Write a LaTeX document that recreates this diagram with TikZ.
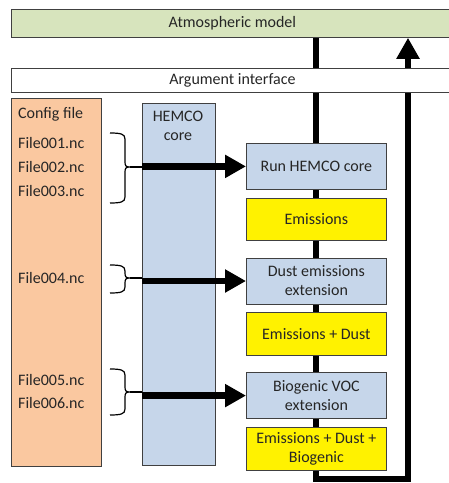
\documentclass[tikz,border=0pt]{standalone}
\usepackage{fontspec}
\setmainfont{Carlito}
\usepackage{xcolor}
\usetikzlibrary{arrows.meta,positioning,backgrounds}

\definecolor{atmgreen}{HTML}{D7E4BD}
\definecolor{cfgpeach}{HTML}{FAC8A0}
\definecolor{coreblue}{HTML}{C6D6EA}
\definecolor{edgegray}{HTML}{404040}

\begin{document}
\begin{tikzpicture}[
  x=1pt, y=-1pt,
  font=\fontsize{16}{19}\selectfont,
  text=black!85,
  bar/.style={rectangle,draw=edgegray,line width=0.8pt,anchor=north west,inner sep=0pt},
  proc/.style={rectangle,draw=edgegray,line width=0.8pt,fill=coreblue,minimum width=140pt,align=center,inner sep=2pt},
  emis/.style={proc,fill=yellow},
  lbl/.style={inner sep=0pt,anchor=west},
  ar/.style={-{Triangle[length=21pt,width=22pt]},line width=6.5pt},
  flowline/.style={-{Triangle[length=21pt,width=22pt]},line width=6pt},
  brc/.style={line width=1.2pt}
]
\path[use as bounding box,clip] (0,0) rectangle (449,483);

% model and interface bars
\node[bar,fill=atmgreen,minimum width=442pt,minimum height=28pt] (atm) at (11,9) {Atmospheric model};
\node[bar,fill=white,minimum width=442pt,minimum height=24pt] (arg) at (11,68) {Argument interface};

% left columns
\node[bar,fill=cfgpeach,minimum width=90pt,minimum height=368pt] (cfg) at (11,98) {};
\node[bar,fill=coreblue,minimum width=73pt,minimum height=362pt] (core) at (142,103) {};
\node[align=center,inner sep=0pt] (corelbl) at (178,126) {HEMCO\\core};

\node[lbl] (cfglbl) at (18,114) {Config file};
\node[lbl] (f1) at (18,143) {File001.nc};
\node[lbl] (f2) at (18,167) {File002.nc};
\node[lbl] (f3) at (18,191) {File003.nc};
\node[lbl] (f4) at (18,278) {File004.nc};
\node[lbl] (f5) at (18,380) {File005.nc};
\node[lbl] (f6) at (18,403) {File006.nc};

% processing chain
\node[proc,anchor=north west,minimum height=46pt] (run) at (246,143) {Run HEMCO core};
\node[emis,below=8pt of run,minimum height=42pt] (em1) {Emissions};
\node[proc,below=17pt of em1,minimum height=46pt] (dust) {Dust emissions\\extension};
\node[emis,below=8pt of dust,minimum height=43pt] (em2) {Emissions + Dust};
\node[proc,below=16pt of em2,minimum height=46pt] (bio) {Biogenic VOC\\extension};
\node[emis,below=8pt of bio,minimum height=43pt] (em3) {Emissions + Dust +\\Biogenic};

\coordinate (ret) at (408,479);

\begin{scope}[on background layer]
  \draw[flowline] (atm.south -| run.north) |- (ret) -- (ret |- atm.south);
\end{scope}

% braces
\foreach \yt/\ym/\yb in {133/167/203, 265/278/293, 369/392/415} {
  \draw[brc] (110,\yt) .. controls (121,\yt) and (125,\yt+1) .. (125,\yt+6)
    -- (125,\ym-5) .. controls (125,\ym-1) and (126,\ym) .. (130,\ym)
    .. controls (126,\ym) and (125,\ym+1) .. (125,\ym+5)
    -- (125,\yb-6) .. controls (125,\yb-1) and (121,\yb) .. (110,\yb);
  \draw[brc] (130,\ym) -- (142,\ym);
}

\draw[ar] (core.west |- run.west) -- (run.west);
\draw[ar] (core.west |- dust.west) -- (dust.west);
\draw[ar] (core.west |- bio.west) -- (bio.west);
\end{tikzpicture}
\end{document}
